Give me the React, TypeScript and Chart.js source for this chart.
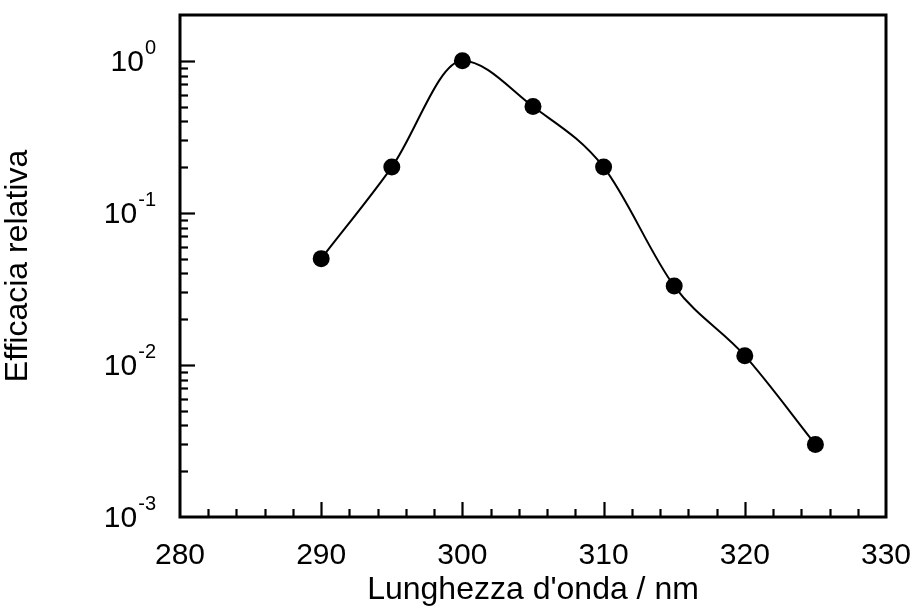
import React, { useEffect, useRef } from 'react';
import { Chart, registerables } from 'chart.js';

Chart.register(...registerables);

// ---- data ----
const wavelengths = [290, 295, 300, 305, 310, 315, 320, 325];
const efficacy = [0.05, 0.2, 1.0, 0.5, 0.2, 0.033, 0.0115, 0.003];
const xMin = 280;
const xMax = 330;
const xMajorStep = 10;
const xMinorStep = 2;
const yMin = 0.001;
const yMax = 2;
const yDecades = [-3, -2, -1, 0];
const xTitle = "Lunghezza d'onda / nm";
const yTitle = 'Efficacia relativa';

const FONT = "'Liberation Sans', Arial, Helvetica, sans-serif";

const framePlugin = {
  id: 'frameAndTicks',
  afterDraw(chart: any) {
    const ctx = chart.ctx;
    const area = chart.chartArea;
    const xs = chart.scales.x;
    const ys = chart.scales.y;
    ctx.save();
    ctx.strokeStyle = '#000';
    ctx.fillStyle = '#000';

    // frame
    ctx.lineWidth = 3;
    ctx.strokeRect(area.left, area.top, area.right - area.left, area.bottom - area.top);

    // x ticks (inward)
    ctx.lineWidth = 2.2;
    for (let v = xMin + xMinorStep; v < xMax; v += xMinorStep) {
      const px = Math.round(xs.getPixelForValue(v)) + 0.5;
      const major = v % xMajorStep === 0;
      const len = major ? 15 : 8;
      ctx.beginPath();
      ctx.moveTo(px, area.bottom);
      ctx.lineTo(px, area.bottom - len);
      ctx.stroke();
    }

    // y ticks (inward)
    for (const d of yDecades) {
      for (let k = 1; k <= 9; k++) {
        const v = k * Math.pow(10, d);
        if (v <= yMin || v >= yMax) continue;
        const py = Math.round(ys.getPixelForValue(v)) + 0.5;
        const len = k === 1 ? 15 : 8;
        ctx.beginPath();
        ctx.moveTo(area.left, py);
        ctx.lineTo(area.left + len, py);
        ctx.stroke();
      }
    }

    // y tick labels with superscript exponents
    const right = area.left - 24;
    for (const d of yDecades) {
      const py = ys.getPixelForValue(Math.pow(10, d));
      const exp = d < 0 ? '-' + String(-d) : String(d);
      ctx.font = `20px ${FONT}`;
      const ew = ctx.measureText(exp).width;
      ctx.textAlign = 'left';
      ctx.textBaseline = 'alphabetic';
      ctx.fillText(exp, right - ew, py - 7);
      ctx.font = `30px ${FONT}`;
      ctx.textAlign = 'right';
      ctx.fillText('10', right - ew - 1, py + 10);
    }
    ctx.restore();
  },
};

export default function App() {
  const canvasRef = useRef<HTMLCanvasElement | null>(null);

  useEffect(() => {
    const canvas = canvasRef.current;
    if (!canvas) return;
    const chart = new Chart(canvas, {
      type: 'line',
      data: {
        datasets: [
          {
            data: wavelengths.map((w, i) => ({ x: w, y: efficacy[i] })),
            borderColor: '#000',
            backgroundColor: '#000',
            borderWidth: 2,
            pointRadius: 8.5,
            pointBackgroundColor: '#000',
            pointBorderColor: '#000',
            pointBorderWidth: 0,
            cubicInterpolationMode: 'monotone',
            fill: false,
            clip: false as any,
          },
        ],
      },
      options: {
        responsive: false,
        animation: false,
        events: [],
        layout: { autoPadding: false, padding: { top: 15, right: 28, bottom: 0, left: 0 } },
        plugins: {
          legend: { display: false },
          tooltip: { enabled: false },
        },
        scales: {
          x: {
            type: 'linear',
            min: xMin,
            max: xMax,
            grid: { display: false, drawTicks: false },
            border: { display: false },
            ticks: {
              stepSize: xMajorStep,
              padding: 21,
              color: '#000',
              font: { family: FONT, size: 30 },
              maxRotation: 0,
            },
            title: {
              display: true,
              text: xTitle,
              color: '#000',
              font: { family: FONT, size: 32, lineHeight: 1.0 },
              padding: { top: 0, bottom: 0 },
            },
            afterFit(scale: any) {
              scale.height = 89;
              scale.paddingLeft = 0;
              scale.paddingRight = 0;
            },
          },
          y: {
            type: 'logarithmic',
            min: yMin,
            max: yMax,
            grid: { display: false, drawTicks: false },
            border: { display: false },
            ticks: { display: false },
            title: {
              display: true,
              text: yTitle,
              color: '#000',
              font: { family: FONT, size: 32, lineHeight: 1.1 },
              padding: { top: 1, bottom: 0 },
            },
            afterFit(scale: any) {
              scale.width = 180;
              scale.paddingTop = 0;
              scale.paddingBottom = 0;
            },
          },
        },
      },
      plugins: [framePlugin],
    });
    return () => chart.destroy();
  }, []);

  return (
    <div style={{ position: 'fixed', left: 0, top: 0, width: 914, height: 606, background: '#fff' }}>
      <canvas ref={canvasRef} width={914} height={606} style={{ display: 'block' }} />
    </div>
  );
}
